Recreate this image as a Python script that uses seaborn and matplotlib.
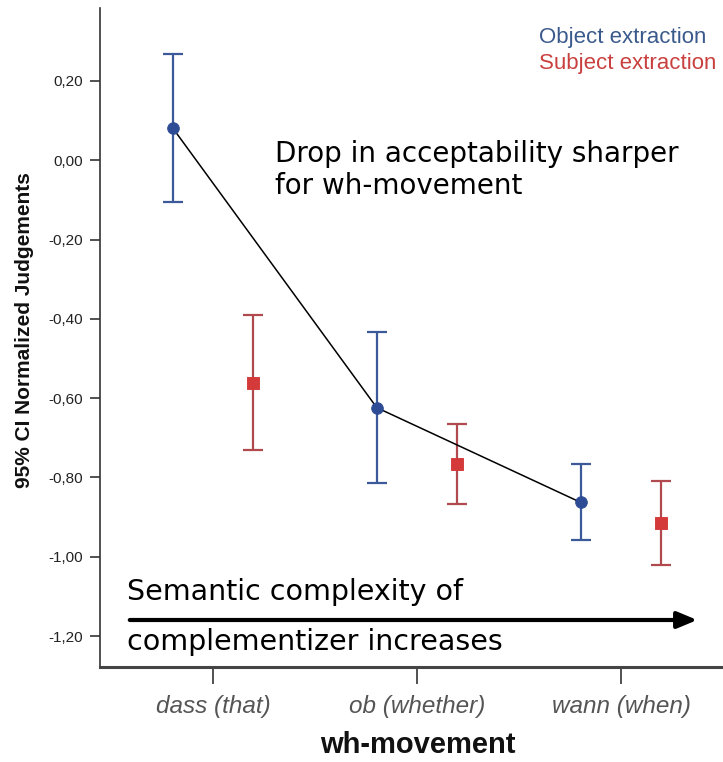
import numpy as np
import pandas as pd
import matplotlib
matplotlib.use("Agg")
import matplotlib.pyplot as plt
import seaborn as sns

# ---- data ----
categories = ["dass (that)", "ob (whether)", "wann (when)"]
object_mean = [0.081, -0.624, -0.863]
object_lo = [-0.106, -0.815, -0.957]
object_hi = [0.268, -0.434, -0.765]
subject_mean = [-0.561, -0.765, -0.914]
subject_lo = [-0.730, -0.866, -1.020]
subject_hi = [-0.391, -0.664, -0.808]
y_ticks = [0.20, 0.00, -0.20, -0.40, -0.60, -0.80, -1.00, -1.20]

sns.set_style("white")
plt.rcParams["font.family"] = ["Liberation Sans", "DejaVu Sans"]

fig = plt.figure(figsize=(7.23, 7.62), dpi=100)
ax = fig.add_axes([100 / 723, 1 - 667 / 762, 623 / 723, 659 / 762])

pos = np.arange(len(categories))
off = 0.197
df_obj = pd.DataFrame({"x": pos - off, "y": object_mean})
df_sub = pd.DataFrame({"x": pos + off, "y": subject_mean})

obj_col = "#3c5a99"
obj_pt = "#2e4c96"
sub_col = "#b04a4e"
sub_pt = "#d43a3a"

# error bars
ax.errorbar(df_obj["x"], df_obj["y"],
            yerr=[np.array(object_mean) - np.array(object_lo),
                  np.array(object_hi) - np.array(object_mean)],
            fmt="none", ecolor=obj_col, elinewidth=1.6, capsize=7.5, capthick=1.6, zorder=2)
ax.errorbar(df_sub["x"], df_sub["y"],
            yerr=[np.array(subject_mean) - np.array(subject_lo),
                  np.array(subject_hi) - np.array(subject_mean)],
            fmt="none", ecolor=sub_col, elinewidth=1.6, capsize=7.5, capthick=1.6, zorder=2)

# connecting line through object means
sns.lineplot(data=df_obj, x="x", y="y", color="black", linewidth=1.1, ax=ax,
             zorder=3, legend=False)

sns.scatterplot(data=df_obj, x="x", y="y", marker="o", s=70, color=obj_pt,
                edgecolor=obj_pt, ax=ax, zorder=4, legend=False)
sns.scatterplot(data=df_sub, x="x", y="y", marker="s", s=70, color=sub_pt,
                edgecolor=sub_pt, ax=ax, zorder=4, legend=False)

# axes
ax.set_xlim(-0.554, 2.5)
ax.set_ylim(-1.278, 0.384)
ax.set_yticks(y_ticks)
ax.set_yticklabels([f"{v:.2f}".replace(".", ",").replace("-0,00", "0,00") for v in y_ticks],
                   fontsize=11, color="#222222")
ax.set_xticks(pos)
ax.set_xticklabels(categories, fontsize=17.5, style="italic", color="#555555")
ax.tick_params(axis="y", direction="out", length=7.2, width=1.2, color="#333333", pad=5, left=True)
ax.tick_params(axis="x", direction="out", length=12, width=1.2, color="#333333", pad=8, bottom=True)

for s in ["top", "right"]:
    ax.spines[s].set_visible(False)
ax.spines["left"].set_color("#333333")
ax.spines["left"].set_linewidth(1.2)
ax.spines["bottom"].set_color("#444444")
ax.spines["bottom"].set_linewidth(2.2)

ax.set_xlabel("wh-movement", fontsize=21, fontweight="bold", color="#111111",
              va="center")
ax.xaxis.set_label_coords((418 - 100) / 623, -(745 - 667) / 659)
ax.set_ylabel("95% CI Normalized Judgements", fontsize=15, fontweight="bold",
              color="#111111", va="center")
ax.yaxis.set_label_coords(-(100 - 25) / 623, (667 - 330) / 659)

# legend-like text
fig.text(539 / 723, 1 - 37 / 762, "Object extraction", color="#3a5a8c", fontsize=16,
         va="center", ha="left")
fig.text(539 / 723, 1 - 63 / 762, "Subject extraction", color="#c8413f", fontsize=16,
         va="center", ha="left")

# annotations
fig.text(275 / 723, 1 - 154 / 762, "Drop in acceptability sharper", fontsize=20,
         family="DejaVu Sans", va="center", ha="left", color="black")
fig.text(275 / 723, 1 - 186 / 762, "for wh-movement", fontsize=20,
         family="DejaVu Sans", va="center", ha="left", color="black")
fig.text(127 / 723, 1 - 592 / 762, "Semantic complexity of", fontsize=20.5,
         family="DejaVu Sans", va="center", ha="left", color="black")
fig.text(127 / 723, 1 - 642 / 762, "complementizer increases", fontsize=20.5,
         family="DejaVu Sans", va="center", ha="left", color="black")
fig.patches.append(matplotlib.patches.FancyArrowPatch(
    (127 / 723, 1 - 620 / 762), (700 / 723, 1 - 620 / 762),
    transform=fig.transFigure, arrowstyle="-|>,head_length=12,head_width=5",
    color="black", linewidth=3, mutation_scale=1))

fig.savefig("out.png", dpi=100)
